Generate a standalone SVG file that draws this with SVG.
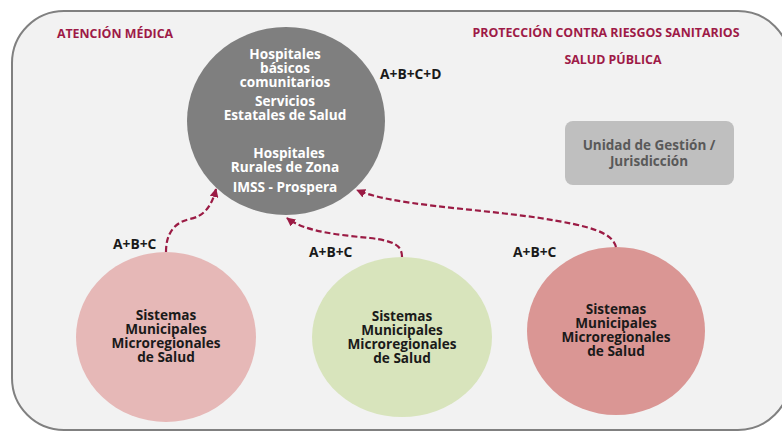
<svg xmlns="http://www.w3.org/2000/svg" width="782" height="432" viewBox="0 0 782 432">
<defs>
<style>
text{font-family:"Open Sans","Noto Sans","Liberation Sans",sans-serif;font-weight:bold;text-anchor:middle}
.hdr{fill:#9e1a47;font-size:12.4px}
.w{fill:#ffffff;font-size:13.6px}
.k{fill:#1a1a1a;font-size:13.6px}
.lbl{fill:#1a1a1a;font-size:13.8px;text-anchor:start}
.u{fill:#595959;font-size:13.5px}
.con{fill:none;stroke:#9b1b44;stroke-width:2.2;stroke-dasharray:6 3}
</style>
<marker id="ah" viewBox="0 0 10 10" refX="9" refY="5" markerWidth="9" markerHeight="9" markerUnits="userSpaceOnUse" orient="auto">
<path d="M0,0 L10,5 L0,10 Z" fill="#9b1b44"/>
</marker>
</defs>
<rect x="12" y="11" width="778" height="419" rx="52" fill="#f2f2f2" stroke="#808080" stroke-width="2"/>
<g id="headers">
<text class="hdr" x="115" y="38">ATENCIÓN MÉDICA</text>
<text class="hdr" x="606" y="37">PROTECCIÓN CONTRA RIESGOS SANITARIOS</text>
<text class="hdr" x="613" y="64">SALUD PÚBLICA</text>
</g>
<g id="central">
<ellipse cx="286" cy="121" rx="99" ry="94" fill="#7f7f7f"/>
<text class="w"><tspan x="285" y="59">Hospitales</tspan><tspan x="285" y="73">básicos</tspan><tspan x="285" y="87">comunitarios</tspan><tspan x="285" y="106">Servicios</tspan><tspan x="285" y="120">Estatales de Salud</tspan><tspan x="289" y="158">Hospitales</tspan><tspan x="285" y="172">Rurales de Zona</tspan><tspan x="285" y="192">IMSS - Prospera</tspan></text>
</g>
<text class="lbl" x="380" y="79">A+B+C+D</text>
<g id="unidad">
<rect x="565" y="121" width="169" height="64" rx="8" fill="#bfbfbf"/>
<text class="u"><tspan x="649" y="150">Unidad de Gestión /</tspan><tspan x="649" y="166">Jurisdicción</tspan></text>
</g>
<g id="smm1">
<ellipse cx="166" cy="337" rx="90" ry="85" fill="#e6b8b7"/>
<text class="k"><tspan x="166" y="320">Sistemas</tspan><tspan x="166" y="334">Municipales</tspan><tspan x="166" y="348">Microregionales</tspan><tspan x="166" y="362">de Salud</tspan></text>
</g>
<g id="smm2">
<ellipse cx="402" cy="337" rx="90" ry="80" fill="#d8e4bc"/>
<text class="k"><tspan x="402" y="321">Sistemas</tspan><tspan x="402" y="335">Municipales</tspan><tspan x="402" y="349">Microregionales</tspan><tspan x="402" y="363">de Salud</tspan></text>
</g>
<g id="smm3">
<ellipse cx="616" cy="331" rx="89" ry="84" fill="#da9694"/>
<text class="k"><tspan x="616" y="314">Sistemas</tspan><tspan x="616" y="328">Municipales</tspan><tspan x="616" y="342">Microregionales</tspan><tspan x="616" y="356">de Salud</tspan></text>
</g>
<g id="connectors">
<path class="con" d="M166,252 C166,236 172,223 190,219 C205,216 212,205 216,189" marker-end="url(#ah)"/>
<path class="con" d="M402,257 C402,246 395,241 370,238 C340,235 305,232 287,218" marker-end="url(#ah)"/>
<path class="con" d="M616,247 C612,232 590,226 540,218 C470,208 390,205 357,190" marker-end="url(#ah)"/>
<text class="lbl" x="113" y="249">A+B+C</text>
<text class="lbl" x="309" y="257">A+B+C</text>
<text class="lbl" x="513" y="257">A+B+C</text>
</g>
</svg>
